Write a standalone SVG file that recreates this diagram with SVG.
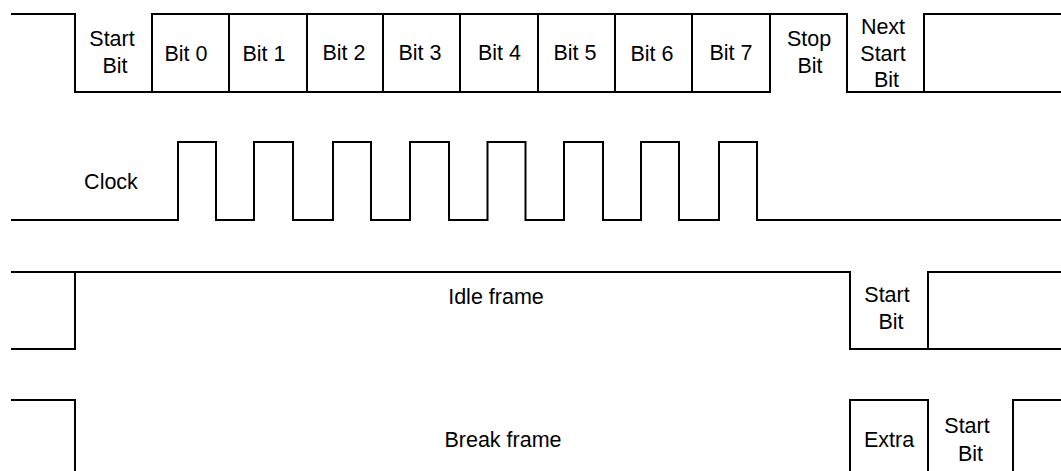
<svg xmlns="http://www.w3.org/2000/svg" width="1061" height="471" viewBox="0 0 1061 471">
<style>
.ln{fill:none;stroke:#000;stroke-width:2;stroke-linecap:square;stroke-linejoin:miter}
.t{font-family:"Liberation Sans",Arial,sans-serif;font-size:21.5px;fill:#000;text-anchor:middle}
</style>
<rect width="1061" height="471" fill="#fff"/>
<g id="data-frame">
<path class="ln" d="M12,14 H75 V92 H770 V14"/>
<path class="ln" d="M152,92 V14 H847 V92 H1061"/>
<path class="ln" d="M924,92 V14 H1061"/>
<path class="ln" d="M229,14 V92 M307,14 V92 M383,14 V92 M460,14 V92 M538,14 V92 M615,14 V92 M692,14 V92"/>
<text class="t" x="112" y="46">Start</text><text class="t" x="115" y="73">Bit</text>
<text class="t" x="186" y="61">Bit 0</text>
<text class="t" x="264" y="61">Bit 1</text>
<text class="t" x="344" y="59.5">Bit 2</text>
<text class="t" x="420" y="59.5">Bit 3</text>
<text class="t" x="499.5" y="59.5">Bit 4</text>
<text class="t" x="575" y="59.5">Bit 5</text>
<text class="t" x="652" y="61">Bit 6</text>
<text class="t" x="731" y="59.5">Bit 7</text>
<text class="t" x="809" y="46">Stop</text><text class="t" x="810" y="73">Bit</text>
<text class="t" x="883" y="34">Next</text><text class="t" x="883" y="61">Start</text><text class="t" x="886.5" y="87">Bit</text>
</g>
<g id="clock">
<path class="ln" d="M12,220 H178 V142 H216 V220 H254 V142 H293 V220 H333 V142 H371 V220 H410 V142 H449 V220 H487.5 V142 H525.5 V220 H564 V142 H603 V220 H641 V142 H679 V220 H719 V142 H757 V220 H1061"/>
<text class="t" x="111" y="189">Clock</text>
</g>
<g id="idle-frame">
<path class="ln" d="M12,272 H850 V349 H928 V272 H1061"/>
<path class="ln" d="M12,349 H75 V272"/>
<path class="ln" d="M928,349 H1061"/>
<text class="t" x="496" y="304">Idle frame</text>
<text class="t" x="887" y="302">Start</text><text class="t" x="891" y="329">Bit</text>
</g>
<g id="break-frame">
<path class="ln" d="M12,400 H75 V472"/>
<path class="ln" d="M850,472 V400 H928 V472"/>
<path class="ln" d="M1013,472 V400 H1061"/>
<text class="t" x="503" y="447">Break frame</text>
<text class="t" x="889" y="447">Extra</text>
<text class="t" x="967" y="433">Start</text><text class="t" x="970.5" y="461">Bit</text>
</g>
</svg>
